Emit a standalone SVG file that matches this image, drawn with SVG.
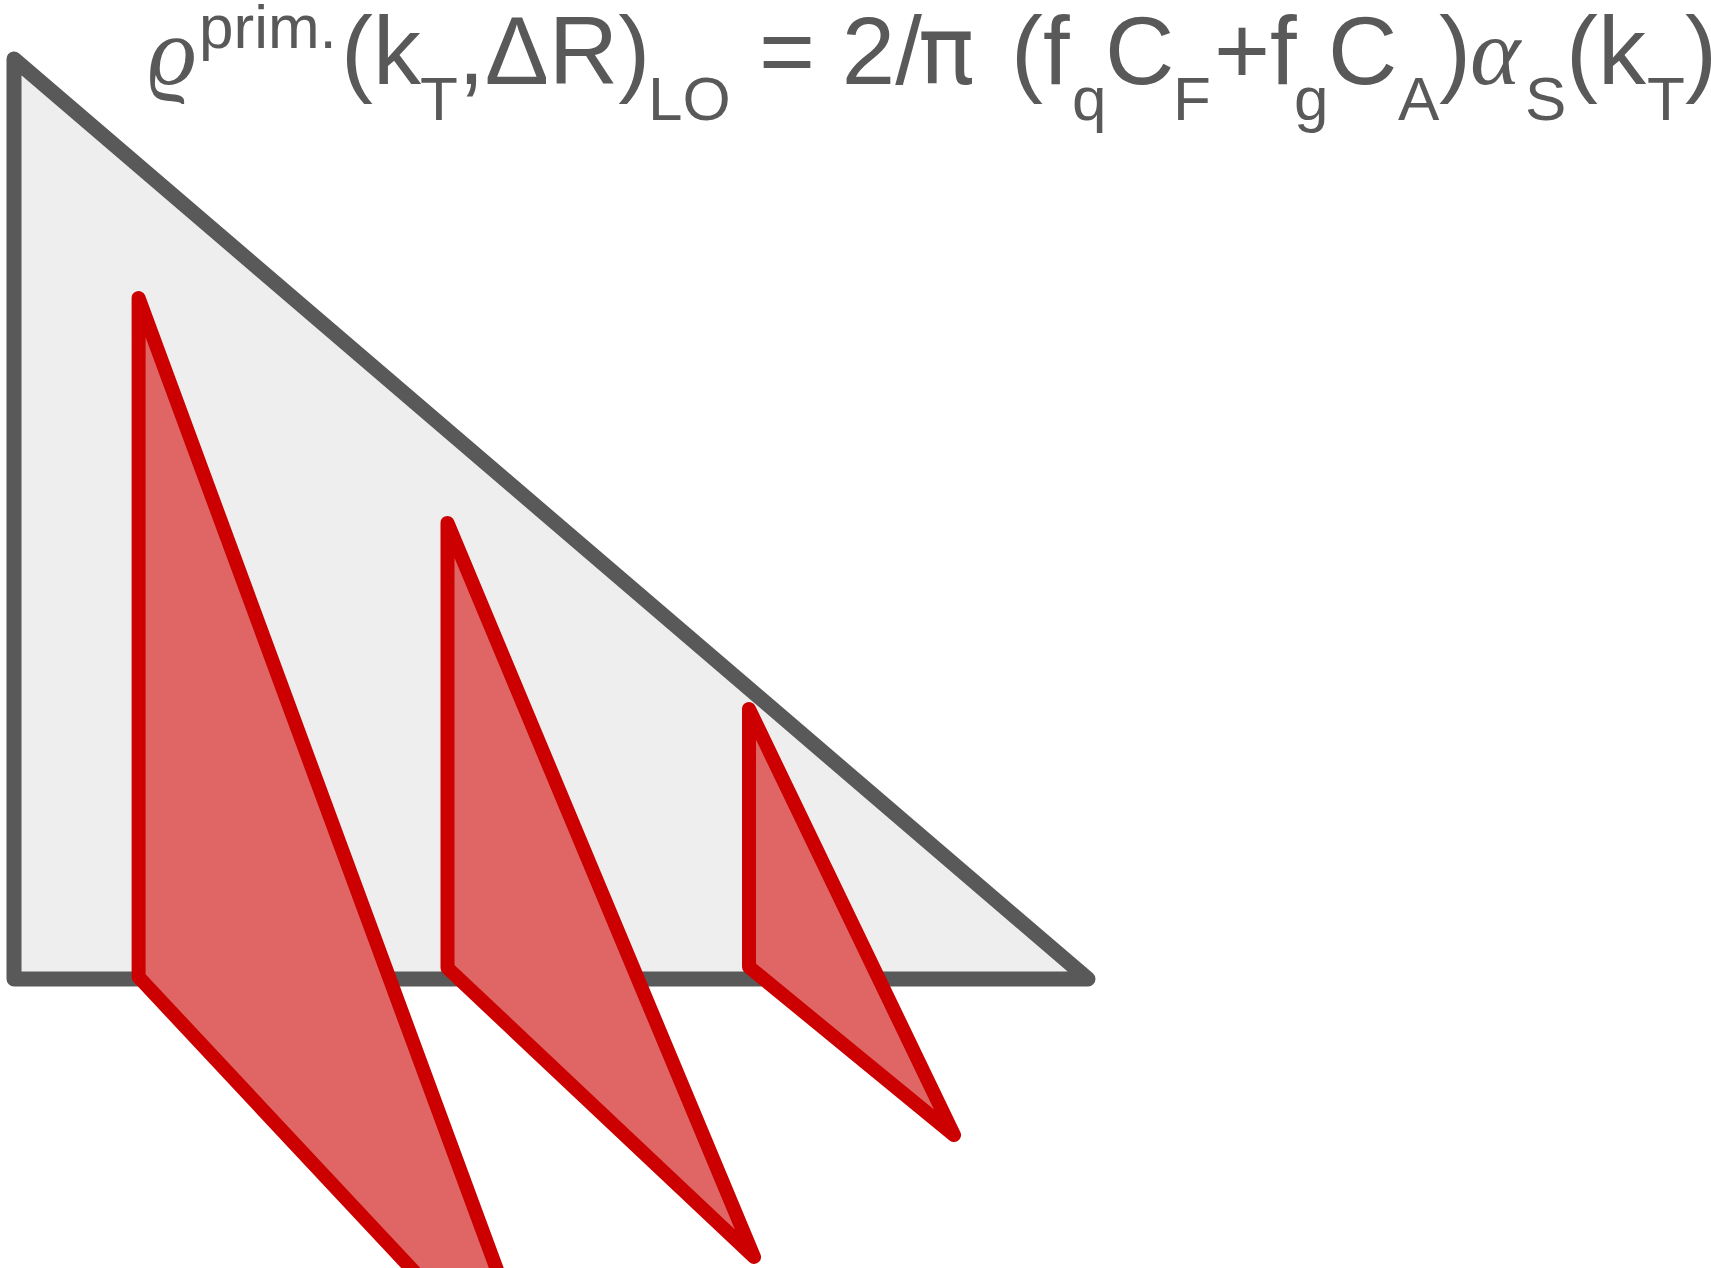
<svg xmlns="http://www.w3.org/2000/svg" width="1711" height="1268" viewBox="0 0 1711 1268">
<style>
.tri{fill:#eeeeee;stroke:#595959;stroke-width:15;stroke-linejoin:round}
.wedge{fill:#e06666;stroke:#cc0000;stroke-width:14;stroke-linejoin:round}
.t{font-family:"Liberation Sans",Arial,sans-serif;fill:#595959}
.m{font-size:96px}
.s{font-size:62px}
.g{font-family:"Liberation Serif","DejaVu Serif",serif;font-style:italic;font-size:96px;fill:#595959}
.pi{font-family:"DejaVu Sans",sans-serif;font-size:94px;fill:#595959}
</style>
<rect width="1711" height="1268" fill="#ffffff"/>
<g id="region">
<polygon class="tri" points="14,59 14,979 1088,979"/>
</g>
<g id="wedge-1"><polygon class="wedge" points="138.6,298 138.6,977 552,1419"/></g>
<g id="wedge-2"><polygon class="wedge" points="447.5,523 447.5,968 754,1257"/></g>
<g id="wedge-3"><polygon class="wedge" points="749,709 749,967 954,1135"/></g>
<g id="formula">
<text class="g" x="148" y="84">ϱ</text>
<text class="t s" x="199" y="48">prim.</text>
<text class="t m" x="341" y="84">(k</text>
<text class="t s" x="420" y="120">T</text>
<text class="t m" x="458" y="84">,ΔR)</text>
<text class="t s" x="648" y="120">LO</text>
<text class="t m" x="759" y="84">= 2/</text>
<text class="pi" x="918" y="84">π</text>
<text class="t m" x="1011" y="84">(f</text>
<text class="t s" x="1072" y="120">q</text>
<text class="t m" x="1105" y="84">C</text>
<text class="t s" x="1173" y="120">F</text>
<text class="t m" x="1214" y="84">+f</text>
<text class="t s" x="1294" y="120">g</text>
<text class="t m" x="1328" y="84">C</text>
<text class="t s" x="1398" y="120">A</text>
<text class="t m" x="1439" y="84">)</text>
<text class="g" x="1470" y="84">α</text>
<text class="t s" x="1525" y="120">S</text>
<text class="t m" x="1566" y="84">(k</text>
<text class="t s" x="1647" y="120">T</text>
<text class="t m" x="1685" y="84">)</text>
</g>
</svg>
